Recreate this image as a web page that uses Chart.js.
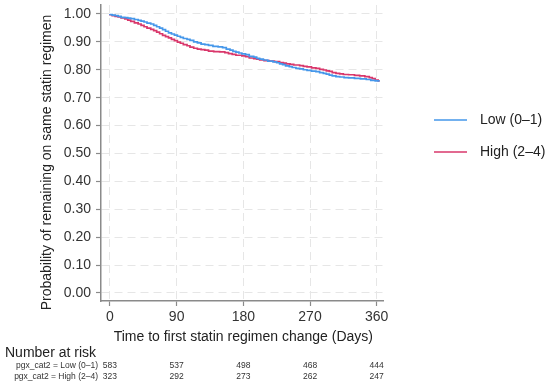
<!DOCTYPE html>
<html>
<head>
<meta charset="utf-8">
<script src="https://cdn.jsdelivr.net/npm/chart.js@4"></script>
<style>
  body { margin: 0; background: #fff; }
  canvas { display: block; }
</style>
</head>
<body>
<canvas id="kmChart" width="550" height="387"></canvas>
<script>
// Kaplan-Meier curves, values
const lowDays = [0, 3, 7, 11, 15, 20, 24, 28, 33, 38, 42, 46, 50, 55, 59, 63, 67, 71, 75, 79, 83, 87, 91, 95, 99, 104, 108, 113, 118, 123, 128, 133, 139, 146, 152, 157, 162, 166, 170, 174, 178, 183, 188, 194, 198, 202, 207, 213, 220, 225, 229, 233, 237, 242, 246, 251, 256, 261, 266, 272, 278, 283, 288, 292, 296, 300, 305, 310, 316, 322, 330, 338, 346, 352, 358, 364];
const lowSurv = [1.000, 0.998, 0.996, 0.994, 0.991, 0.988, 0.987, 0.985, 0.983, 0.980, 0.977, 0.974, 0.971, 0.967, 0.964, 0.959, 0.954, 0.949, 0.944, 0.938, 0.932, 0.928, 0.924, 0.920, 0.916, 0.912, 0.909, 0.905, 0.900, 0.896, 0.892, 0.890, 0.887, 0.884, 0.882, 0.879, 0.874, 0.870, 0.866, 0.863, 0.860, 0.857, 0.854, 0.848, 0.845, 0.841, 0.838, 0.835, 0.831, 0.828, 0.825, 0.821, 0.818, 0.814, 0.811, 0.808, 0.805, 0.803, 0.800, 0.798, 0.795, 0.793, 0.790, 0.787, 0.784, 0.781, 0.778, 0.775, 0.774, 0.772, 0.771, 0.769, 0.767, 0.765, 0.762, 0.760];

const highDays = [0, 3, 7, 11, 15, 20, 24, 28, 33, 38, 42, 46, 50, 55, 59, 63, 67, 71, 75, 79, 83, 87, 91, 95, 99, 104, 108, 113, 118, 123, 128, 133, 140, 148, 155, 160, 165, 170, 178, 183, 188, 194, 198, 202, 208, 215, 222, 229, 234, 238, 243, 248, 256, 261, 266, 272, 278, 283, 288, 292, 296, 300, 305, 310, 315, 322, 330, 337, 344, 350, 354, 358, 362, 364];
const highSurv = [1.000, 0.997, 0.994, 0.991, 0.989, 0.986, 0.982, 0.978, 0.973, 0.968, 0.964, 0.959, 0.954, 0.949, 0.945, 0.940, 0.935, 0.929, 0.923, 0.919, 0.914, 0.909, 0.904, 0.899, 0.895, 0.890, 0.886, 0.881, 0.877, 0.874, 0.872, 0.870, 0.867, 0.865, 0.864, 0.861, 0.858, 0.855, 0.852, 0.850, 0.847, 0.842, 0.840, 0.838, 0.835, 0.833, 0.831, 0.829, 0.826, 0.824, 0.821, 0.819, 0.817, 0.815, 0.812, 0.810, 0.807, 0.805, 0.801, 0.799, 0.796, 0.794, 0.790, 0.787, 0.785, 0.783, 0.782, 0.780, 0.778, 0.775, 0.772, 0.768, 0.763, 0.760];

const xTicks = [0, 90, 180, 270, 360];
const yTicks = [0, 0.1, 0.2, 0.3, 0.4, 0.5, 0.6, 0.7, 0.8, 0.9, 1.0];

const groupNames = ['Low (0\u20131)', 'High (2\u20134)'];
const riskRowLabels = ['pgx_cat2 = Low (0\u20131)', 'pgx_cat2 = High (2\u20134)'];
const riskTimes = [0, 90, 180, 270, 360];
const riskLow = [583, 537, 498, 468, 444];
const riskHigh = [323, 292, 273, 262, 247];

const blue = '#4597ea';
const red = '#d9376b';
const font = '"Liberation Sans", Arial, sans-serif';

function toPoints(days, surv) {
    return days.map((d, i) => ({ x: d, y: surv[i] }));
}

// titles, legend and the number-at-risk table
const extrasPlugin = {
    id: 'extras',
    afterDraw(chart) {
        const ctx = chart.ctx;
        const xScale = chart.scales.x;
        ctx.save();
        ctx.fillStyle = '#222';

        // y axis title
        ctx.save();
        ctx.translate(47, 162.5);
        ctx.rotate(-Math.PI / 2);
        ctx.font = '14px ' + font;
        ctx.textAlign = 'center';
        ctx.textBaseline = 'middle';
        ctx.fillText('Probability of remaining on same statin regimen', 0, 0);
        ctx.restore();

        // x axis title
        ctx.font = '14px ' + font;
        ctx.textAlign = 'center';
        ctx.textBaseline = 'middle';
        ctx.fillText('Time to first statin regimen change (Days)', xScale.getPixelForValue(180), 337);

        // legend
        const legendY = [120, 152];
        const colors = [blue, red];
        groupNames.forEach((name, i) => {
            ctx.strokeStyle = colors[i];
            ctx.lineWidth = 1.6;
            ctx.beginPath();
            ctx.moveTo(434, legendY[i]);
            ctx.lineTo(467, legendY[i]);
            ctx.stroke();
            ctx.textAlign = 'left';
            ctx.fillText(name, 480, legendY[i]);
        });

        // number at risk
        ctx.textAlign = 'left';
        ctx.font = '14px ' + font;
        ctx.fillText('Number at risk', 5, 353);
        const rows = [riskLow, riskHigh];
        const rowY = [366, 377];
        ctx.font = '8.5px ' + font;
        ctx.fillStyle = '#333';
        rows.forEach((row, r) => {
            ctx.textAlign = 'right';
            ctx.fillText(riskRowLabels[r], 98, rowY[r]);
            ctx.textAlign = 'center';
            row.forEach((n, i) => ctx.fillText(String(n), xScale.getPixelForValue(riskTimes[i]), rowY[r]));
        });
        ctx.restore();
    }
};

const axisColor = '#8a8a8a';
const gridColor = '#e6e6e6';

new Chart(document.getElementById('kmChart'), {
    type: 'line',
    data: {
        datasets: [
            {
                label: groupNames[0],
                data: toPoints(lowDays, lowSurv),
                borderColor: blue,
                borderWidth: 1.7,
                stepped: 'after',
                pointRadius: 0,
                fill: false
            },
            {
                label: groupNames[1],
                data: toPoints(highDays, highSurv),
                borderColor: red,
                borderWidth: 1.7,
                stepped: 'after',
                pointRadius: 0,
                fill: false
            }
        ]
    },
    options: {
        responsive: false,
        animation: false,
        devicePixelRatio: 1,
        layout: { padding: { left: 0, top: 5, right: 167, bottom: 36 } },
        plugins: {
            legend: { display: false },
            tooltip: { enabled: false }
        },
        scales: {
            x: {
                type: 'linear',
                min: -12.1,
                max: 368.5,
                afterBuildTicks: (scale) => { scale.ticks = xTicks.map(v => ({ value: v })); },
                afterFit: (scale) => {
                    scale.height = 50;
                    scale.paddingLeft = 0;
                    scale.paddingRight = 0;
                },
                ticks: {
                    autoSkip: false,
                    maxRotation: 0,
                    padding: 3,
                    color: '#333',
                    font: { family: font, size: 14 }
                },
                grid: {
                    color: gridColor,
                    lineWidth: 1,
                    tickLength: 5,
                    tickColor: axisColor,
                    tickWidth: 1.2
                },
                border: { color: axisColor, width: 1.5, dash: [8, 5] }
            },
            y: {
                type: 'linear',
                min: -0.0287,
                max: 1.032,
                afterBuildTicks: (scale) => { scale.ticks = yTicks.map(v => ({ value: v })); },
                afterFit: (scale) => {
                    scale.width = 101;
                    scale.paddingTop = 0;
                    scale.paddingBottom = 0;
                },
                ticks: {
                    autoSkip: false,
                    padding: 5,
                    color: '#333',
                    font: { family: font, size: 14 },
                    callback: (v) => Number(v).toFixed(2)
                },
                grid: {
                    color: gridColor,
                    lineWidth: 1,
                    tickLength: 5,
                    tickColor: axisColor,
                    tickWidth: 1.2
                },
                border: { color: axisColor, width: 1.5, dash: [8, 5] }
            }
        }
    },
    plugins: [extrasPlugin]
});
</script>
</body>
</html>
